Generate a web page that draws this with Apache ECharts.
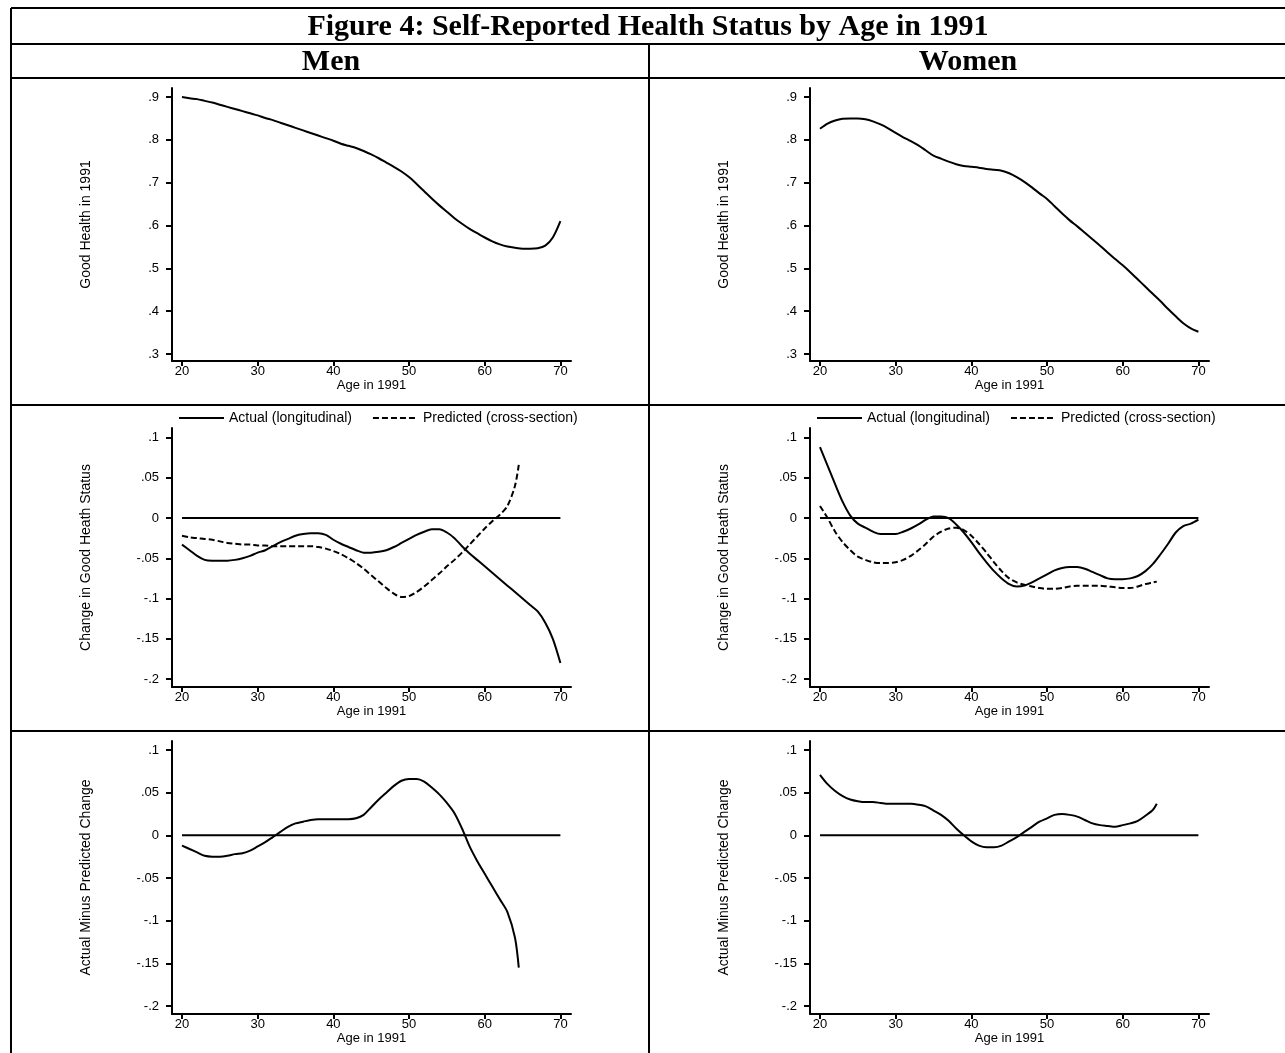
<!DOCTYPE html>
<html>
<head>
<meta charset="utf-8">
<script src="https://cdn.jsdelivr.net/npm/echarts@6/dist/echarts.min.js"></script>
<style>
  html, body { margin: 0; padding: 0; background: #fff; }
  #main { width: 1285px; height: 1053px; }
</style>
</head>
<body>
<div id="main"></div>
<script>
// ages (x values)
const ages = [20,21,22,23,24,25,26,27,28,29,30,31,32,33,34,35,36,37,38,39,40,41,42,43,44,45,46,47,48,49,50,51,52,53,54,55,56,57,58,59,60,61,62,63,64,65,66,67,68,69,70];
const agesShort = [20,21,22,23,24,25,26,27,28,29,30,31,32,33,34,35,36,37,38,39,40,41,42,43,44,45,46,47,48,49,50,51,52,53,54,55,56,57,58,59,60,61,62,63,64,64.5];

// row 1: good health in 1991
const menHealth = [.900,.897,.895,.891,.887,.882,.877,.872,.867,.862,.857,.851,.846,.840,.834,.828,.822,.816,.810,.804,.798,.791,.786,.781,.774,.766,.757,.747,.737,.726,.713,.697,.680,.663,.647,.632,.617,.604,.592,.582,.572,.563,.556,.551,.548,.546,.546,.547,.553,.572,.610];
const womenHealth = [.826,.838,.845,.849,.850,.850,.848,.843,.836,.827,.816,.806,.797,.787,.775,.763,.756,.749,.743,.739,.737,.735,.732,.730,.728,.722,.713,.702,.689,.675,.662,.645,.628,.612,.598,.583,.568,.553,.537,.522,.507,.491,.474,.457,.440,.423,.405,.388,.372,.360,.352];

// row 2: change in good health status
const menActual = [-.033,-.040,-.047,-.052,-.053,-.053,-.053,-.052,-.050,-.047,-.043,-.040,-.035,-.030,-.026,-.022,-.020,-.019,-.019,-.021,-.027,-.032,-.036,-.040,-.043,-.043,-.042,-.040,-.036,-.031,-.026,-.021,-.017,-.014,-.014,-.018,-.025,-.035,-.044,-.052,-.060,-.068,-.076,-.084,-.092,-.100,-.108,-.116,-.130,-.150,-.180];
const menPredicted = [-.022,-.024,-.025,-.026,-.027,-.029,-.031,-.032,-.033,-.033,-.034,-.034,-.035,-.035,-.035,-.035,-.035,-.035,-.036,-.038,-.041,-.045,-.050,-.056,-.063,-.071,-.079,-.087,-.094,-.098,-.097,-.092,-.085,-.077,-.069,-.060,-.052,-.043,-.033,-.023,-.013,-.004,.004,.015,.040,.066];
const womenActual = [.088,.065,.042,.020,.003,-.007,-.012,-.017,-.020,-.020,-.020,-.017,-.013,-.008,-.002,.002,.002,0,-.008,-.018,-.030,-.043,-.055,-.066,-.075,-.082,-.085,-.084,-.080,-.075,-.070,-.065,-.062,-.061,-.061,-.063,-.067,-.071,-.075,-.076,-.076,-.075,-.072,-.066,-.057,-.045,-.032,-.018,-.010,-.007,-.002];
const womenPredicted = [.015,0,-.017,-.030,-.040,-.048,-.052,-.055,-.056,-.056,-.055,-.052,-.047,-.040,-.032,-.023,-.017,-.013,-.012,-.015,-.022,-.032,-.043,-.055,-.066,-.075,-.080,-.083,-.085,-.087,-.088,-.088,-.087,-.085,-.084,-.084,-.084,-.084,-.085,-.086,-.087,-.087,-.085,-.082,-.080,-.079];

// row 3: actual minus predicted change
const menDiff = [-.012,-.016,-.020,-.024,-.025,-.025,-.024,-.022,-.021,-.018,-.013,-.008,-.002,.004,.010,.014,.016,.018,.019,.019,.019,.019,.019,.020,.024,.033,.042,.050,.058,.064,.066,.066,.063,.056,.048,.038,.026,.008,-.013,-.030,-.045,-.060,-.075,-.090,-.120,-.155];
const womenDiff = [.071,.060,.052,.046,.042,.040,.039,.039,.038,.037,.037,.037,.037,.036,.034,.029,.024,.017,.008,0,-.007,-.012,-.014,-.014,-.012,-.007,-.002,.004,.010,.016,.020,.024,.025,.024,.022,.018,.014,.012,.011,.010,.012,.014,.017,.023,.030,.037];

// reference line at zero
const zeroAges = [20, 70];
const zeroVals = [0, 0];

// tick labels
const ageTicks = [20, 30, 40, 50, 60, 70];
const healthTicks = [0.3, 0.4, 0.5, 0.6, 0.7, 0.8, 0.9];
const changeTicks = [-0.2, -0.15, -0.1, -0.05, 0, 0.05, 0.1];

const ACTUAL = 'Actual (longitudinal)';
const PREDICTED = 'Predicted (cross-section)';

const pairs = (xs, ys) => ys.map((v, i) => [xs[i], v]);
const fmt = v => String(+v.toFixed(2)).replace(/^(-?)0\./, '$1.');

const txt = { fontFamily: 'Liberation Sans, Arial, sans-serif', color: '#000' };

// columns: men, women ; rows: health, change, diff
const colLeft = [172, 810];
const rows = [
  { top: 88, height: 273, min: 0.2837, max: 0.921, ticks: healthTicks, name: 'Good Health in 1991' },
  { top: 428, height: 259, min: -0.2099, max: 0.1118, ticks: changeTicks, name: 'Change in Good Heath Status' },
  { top: 741, height: 273, min: -0.2094, max: 0.1106, ticks: changeTicks, name: 'Actual Minus Predicted Change' }
];

const grid = [], xAxis = [], yAxis = [];
rows.forEach(r => {
  colLeft.forEach(l => {
    grid.push({ left: l, top: r.top, width: 399, height: r.height });
    const gi = grid.length - 1;
    xAxis.push({
      gridIndex: gi, type: 'value', min: 18.68, max: 71.4,
      name: 'Age in 1991', nameLocation: 'middle', nameGap: 17,
      nameTextStyle: Object.assign({ fontSize: 13 }, txt),
      axisLine: { onZero: false, lineStyle: { color: '#000', width: 2 } },
      axisTick: { customValues: ageTicks, length: 5, lineStyle: { color: '#000', width: 2 } },
      axisLabel: Object.assign({ customValues: ageTicks, margin: 4, fontSize: 13 }, txt),
      splitLine: { show: false }
    });
    yAxis.push({
      gridIndex: gi, type: 'value', min: r.min, max: r.max,
      name: r.name, nameLocation: 'middle', nameGap: 79,
      nameTextStyle: Object.assign({ fontSize: 14 }, txt),
      axisLine: { show: true, lineStyle: { color: '#000', width: 2 } },
      axisTick: { show: true, customValues: r.ticks, length: 6, lineStyle: { color: '#000', width: 2 } },
      axisLabel: Object.assign({ customValues: r.ticks, margin: 13, fontSize: 13, formatter: fmt }, txt),
      splitLine: { show: false }
    });
  });
});

const line = (name, idx, data, dashed) => ({
  name: name, type: 'line', xAxisIndex: idx, yAxisIndex: idx,
  data: data, symbol: 'none', smooth: 0.3, silent: true,
  lineStyle: { color: '#000', width: 2, type: dashed ? [6, 3] : 'solid' },
  itemStyle: { color: '#000' }
});
const zero = idx => line('zero', idx, pairs(zeroAges, zeroVals), false);

const series = [
  line('menHealth', 0, pairs(ages, menHealth)),
  line('womenHealth', 1, pairs(ages, womenHealth)),
  zero(2),
  line(ACTUAL, 2, pairs(ages, menActual)),
  line(PREDICTED, 2, pairs(agesShort, menPredicted), true),
  zero(3),
  line(ACTUAL, 3, pairs(ages, womenActual)),
  line(PREDICTED, 3, pairs(agesShort, womenPredicted), true),
  zero(4),
  line('menDiff', 4, pairs(agesShort, menDiff)),
  zero(5),
  line('womenDiff', 5, pairs(agesShort, womenDiff))
];

const legendAt = left => ({
  left: left, top: 406, itemWidth: 45, itemHeight: 10, itemGap: 20,
  data: [ACTUAL, PREDICTED], selectedMode: false,
  itemStyle: { opacity: 0 },
  textStyle: Object.assign({ fontSize: 14 }, txt)
});

// table borders
const L = (x1, y1, x2, y2) => ({
  type: 'line', silent: true,
  shape: { x1: x1, y1: y1, x2: x2, y2: y2 },
  style: { stroke: '#000', lineWidth: 2 }
});
const T = (x, y, text, size) => ({
  type: 'text', x: x, y: y, silent: true,
  style: { text: text, align: 'center', verticalAlign: 'middle', fill: '#000',
    font: 'bold ' + size + 'px "Liberation Serif", "Times New Roman", serif' }
});

const option = {
  animation: false,
  grid: grid, xAxis: xAxis, yAxis: yAxis, series: series,
  legend: [legendAt(173), legendAt(811)],
  graphic: [
    L(11, 8, 1285, 8),
    L(11, 8, 11, 1053),
    L(11, 44, 1285, 44),
    L(11, 78, 1285, 78),
    L(649, 44, 649, 1053),
    L(11, 405, 1285, 405),
    L(11, 731, 1285, 731),
    T(648, 27, 'Figure 4: Self-Reported Health Status by Age in 1991', 30),
    T(331, 62, 'Men', 30),
    T(968, 62, 'Women', 30)
  ]
};

echarts.init(document.getElementById('main')).setOption(option);
</script>
</body>
</html>
